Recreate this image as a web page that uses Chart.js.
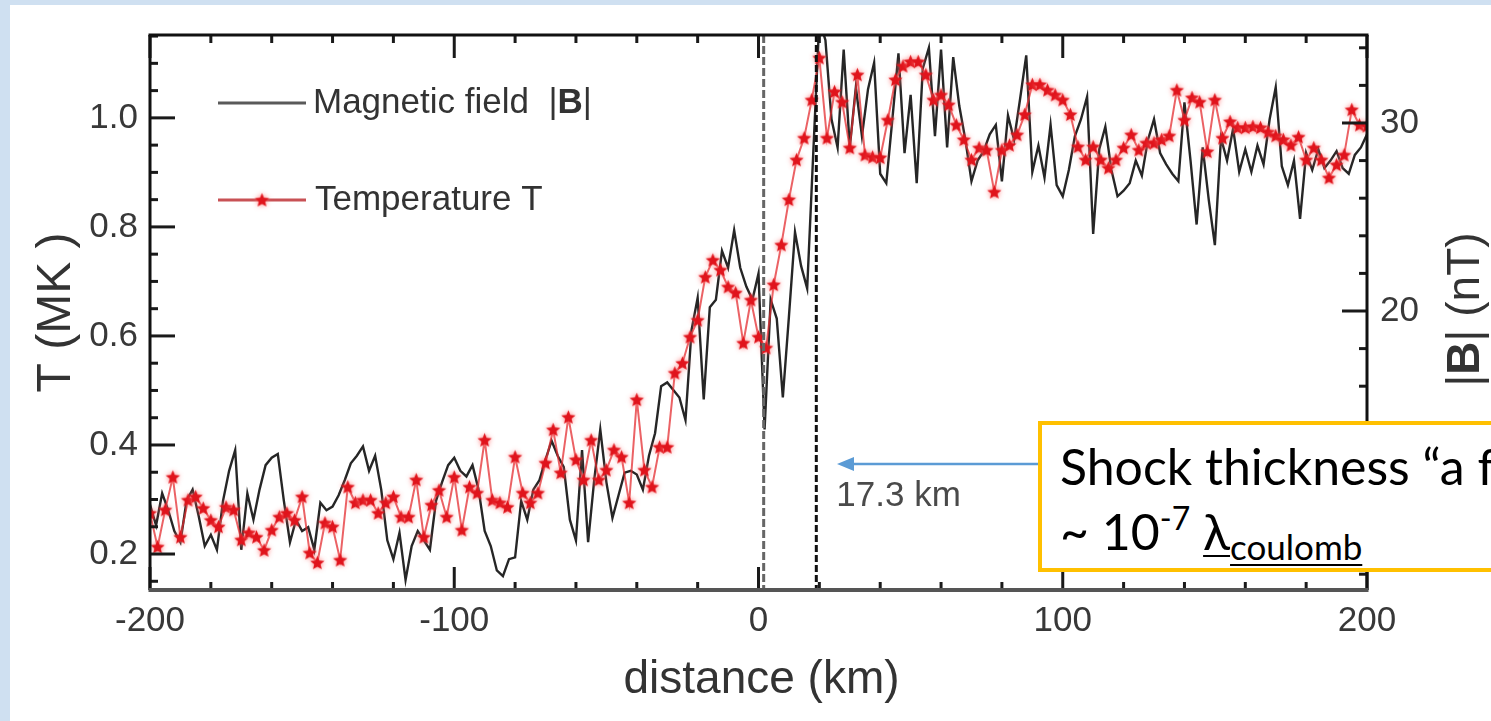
<!DOCTYPE html>
<html>
<head>
<meta charset="utf-8">
<script src="https://cdn.jsdelivr.net/npm/chart.js@4.4.1/dist/chart.umd.min.js"></script>
<style>
  html, body { margin: 0; padding: 0; width: 1491px; height: 721px; overflow: hidden; background: #cfe0f1; }
  #sheet { position: absolute; left: 10px; top: 5px; right: 0; bottom: 0; background: #fff; }
  #plot { position: absolute; left: 0; top: 0; }
  #arrow { position: absolute; left: 0; top: 0; }
  #note { position: absolute; left: 1038px; top: 421px; width: 600px; height: 143px;
          border: 4px solid #ffc000; background: #fff; font-family: Lato, "Liberation Sans", sans-serif; color: #000; }
  #note .l1, #note .l2 { position: absolute; left: 18px; white-space: nowrap; font-size: 50px; line-height: 50px; }
  #note .l1 { top: 16px; }
  #note .l2 { top: 81px; }
  #note sup { font-size: 32px; vertical-align: 20px; line-height: 0; }
  #note .sub { display: inline-block; font-size: 35px; line-height: 35px; position: relative; top: 10px;
               text-decoration: underline; text-underline-offset: 4px; text-decoration-thickness: 2px; }
  #note .lam { text-decoration: underline; text-underline-offset: 5px; text-decoration-thickness: 2px; }
</style>
</head>
<body>
<div id="sheet"></div>
<canvas id="plot" width="1491" height="721"></canvas>
<svg id="arrow" width="1491" height="721">
  <line x1="1038" y1="464" x2="850" y2="464" stroke="#5b9bd5" stroke-width="2.5"/>
  <polygon points="837,464 854,457 854,471" fill="#5b9bd5"/>
</svg>
<div id="note">
  <div class="l1">Shock thickness “a few</div>
  <div class="l2">~ 10<sup>-7</sup> <span class="lam">λ</span><span class="sub">coulomb</span></div>
</div>
<script>
// distance grid (km)
const distStart = -200;
const distStepB = 2;
const distStepT = 2.5;

// |B| in nT, one value every 2 km from -200 km
const fieldB = [
  9.7, 8.6, 10.3, 9.4, 8.3, 7.7, 9.9, 10.5, 9.1, 7.5,
  8.1, 7.3, 9.9, 11.5, 12.6, 7.3, 10.3, 8.9, 10.5, 11.8,
  12.2, 12.4, 9.9, 7.7, 8.9, 8.3, 8.5, 7.3, 9.8, 9.4,
  9.6, 10.2, 11.0, 11.9, 12.3, 12.8, 11.5, 12.3, 10.5, 7.8,
  6.8, 8.2, 5.7, 7.5, 8.3, 7.8, 7.3, 9.9, 10.9, 11.8,
  12.2, 11.5, 11.2, 11.8, 10.5, 8.3, 7.5, 6.2, 5.9, 6.8,
  6.9, 9.9, 8.9, 10.5, 11.0, 12.1, 13.1, 12.3, 11.7, 8.9,
  7.8, 12.6, 7.7, 11.0, 13.7, 10.9, 9.0, 10.2, 11.4, 11.5,
  11.3, 10.5, 12.3, 13.5, 16.0, 16.2, 15.8, 15.4, 14.2, 19.0,
  20.7, 15.3, 20.2, 20.6, 23.2, 22.3, 24.3, 22.3, 21.3, 20.6,
  22.0, 13.7, 20.6, 19.6, 15.4, 19.7, 24.2, 22.4, 21.2, 28.4,
  35.5, 34.4, 30.2, 28.7, 33.9, 28.7, 31.9, 29.3, 31.8, 33.2,
  27.3, 26.8, 30.2, 33.7, 28.4, 31.5, 26.8, 32.9, 34.0, 29.3,
  33.9, 28.7, 33.5, 30.9, 29.1, 26.9, 28.0, 28.5, 29.4, 29.9,
  26.9, 30.4, 29.1, 31.3, 33.6, 27.4, 28.8, 27.1, 29.9, 26.7,
  26.1, 27.5, 29.3, 30.2, 31.4, 24.1, 28.6, 29.8, 27.5, 26.1,
  26.4, 26.8, 28.0, 27.2, 29.1, 30.2, 28.4, 27.8, 27.3, 26.9,
  31.1, 28.0, 24.6, 28.7, 25.9, 23.5, 29.2, 28.0, 29.7, 27.4,
  28.6, 27.4, 28.8, 27.8, 30.2, 31.9, 27.7, 26.7, 28.0, 24.9,
  28.4, 27.5, 28.6, 27.6, 28.0, 28.5, 27.6, 27.3, 28.3, 28.7,
  29.4
];

// T in MK, one value every 2.5 km from -200 km
const tempT = [
  0.275, 0.213, 0.281, 0.341, 0.231, 0.299, 0.305, 0.284, 0.262, 0.250,
  0.286, 0.281, 0.226, 0.239, 0.231, 0.207, 0.244, 0.268, 0.275, 0.262,
  0.305, 0.202, 0.184, 0.257, 0.250, 0.189, 0.323, 0.294, 0.299, 0.299,
  0.275, 0.294, 0.305, 0.268, 0.268, 0.336, 0.231, 0.290, 0.317, 0.268,
  0.341, 0.244, 0.323, 0.312, 0.409, 0.299, 0.294, 0.286, 0.378, 0.312,
  0.294, 0.312, 0.367, 0.428, 0.349, 0.451, 0.373, 0.336, 0.409, 0.336,
  0.354, 0.391, 0.378, 0.294, 0.483, 0.354, 0.323, 0.396, 0.396, 0.532,
  0.550, 0.598, 0.629, 0.708, 0.739, 0.721, 0.690, 0.679, 0.587, 0.666,
  0.598, 0.578, 0.694, 0.767, 0.850, 0.923, 0.963, 1.033, 1.110, 0.963,
  1.048, 1.029, 0.945, 1.079, 0.932, 0.928, 0.927, 0.996, 1.070, 1.095,
  1.103, 1.103, 1.079, 1.033, 1.042, 1.024, 0.987, 0.960, 0.923, 0.945,
  0.941, 0.864, 0.941, 0.950, 0.969, 1.006, 1.061, 1.061, 1.051, 1.042,
  1.033, 1.006, 0.947, 0.923, 0.947, 0.923, 0.908, 0.923, 0.945, 0.969,
  0.941, 0.954, 0.954, 0.960, 0.967, 1.051, 0.996, 1.037, 1.029, 0.938,
  1.033, 0.963, 0.993, 0.982, 0.982, 0.984, 0.982, 0.974, 0.967, 0.960,
  0.950, 0.965, 0.923, 0.945, 0.923, 0.890, 0.914, 0.932, 1.015, 0.987,
  0.985
];

// axes
const xRange = [-200, 200];
const tRange = [0.134, 1.152];
const bRange = [5.16, 34.68];
const xMajor = [-200, -100, 0, 100, 200];
const tMajor = [0.2, 0.4, 0.6, 0.8, 1.0];
const bMajor = [10, 20, 30];
const xMinorStep = 20, tMinorStep = 0.05, bMinorStep = 2;

// shock edges (dashed lines), km
const shockEdges = [1.7, 19.0];
const shockLabel = '17.3 km';

const labelFont = '"Liberation Sans", Arial, sans-serif';

function starImage(r, color) {
  const s = Math.ceil(r * 2 + 8);
  const c = document.createElement('canvas');
  c.width = c.height = s;
  const g = c.getContext('2d');
  g.translate(s / 2, s / 2 + 0.5);
  g.beginPath();
  for (let i = 0; i < 10; i++) {
    const rad = i % 2 ? r * 0.45 : r;
    const a = -Math.PI / 2 + i * Math.PI / 5;
    g.lineTo(rad * Math.cos(a), rad * Math.sin(a));
  }
  g.closePath();
  g.shadowColor = 'rgba(255,110,110,0.9)';
  g.shadowBlur = 5;
  g.fillStyle = color;
  g.fill();
  return c;
}
const redStar = starImage(7.5, '#e0141c');

function line(ctx, x1, y1, x2, y2) {
  ctx.beginPath(); ctx.moveTo(x1, y1); ctx.lineTo(x2, y2); ctx.stroke();
}
function steps(lo, hi, step) {
  const out = [];
  for (let v = Math.ceil(lo / step - 1e-9) * step; v <= hi + 1e-9; v += step) out.push(+v.toFixed(4));
  return out;
}

const decorations = {
  id: 'decorations',
  afterDatasetsDraw(chart) {
    const ctx = chart.ctx, a = chart.chartArea;
    const sx = chart.scales.x, sT = chart.scales.yT, sB = chart.scales.yB;
    ctx.save();

    // dashed shock edges
    ctx.lineWidth = 3;
    ctx.strokeStyle = '#666';
    ctx.setLineDash([8, 3]);
    let px = sx.getPixelForValue(shockEdges[0]);
    line(ctx, px, a.top, px, a.bottom);
    ctx.strokeStyle = '#111';
    ctx.setLineDash([7, 3]);
    px = sx.getPixelForValue(shockEdges[1]);
    line(ctx, px, a.top, px, a.bottom);
    ctx.setLineDash([]);

    ctx.font = '35px ' + labelFont;
    ctx.fillStyle = '#4a4a4a';
    ctx.textBaseline = 'middle';
    ctx.textAlign = 'left';
    ctx.fillText(shockLabel, px + 20, sT.getPixelForValue(0.305));

    // inward ticks
    ctx.strokeStyle = '#1a1a1a';
    ctx.lineWidth = 3;
    steps(xRange[0], xRange[1], xMinorStep).forEach(v => {
      const len = xMajor.includes(v) ? 23 : 8;
      const p = sx.getPixelForValue(v);
      line(ctx, p, a.bottom, p, a.bottom - len);
      line(ctx, p, a.top, p, a.top + len);
    });
    steps(tRange[0], tRange[1], tMinorStep).forEach(v => {
      const len = tMajor.some(m => Math.abs(m - v) < 1e-6) ? 25 : 8;
      const p = sT.getPixelForValue(v);
      line(ctx, a.left, p, a.left + len, p);
    });
    steps(bRange[0], bRange[1], bMinorStep).forEach(v => {
      const len = bMajor.includes(v) ? 25 : 8;
      const p = sB.getPixelForValue(v);
      line(ctx, a.right, p, a.right - len, p);
    });

    // frame
    ctx.strokeStyle = '#111';
    ctx.lineWidth = 3;
    line(ctx, a.left, a.bottom, a.left, a.top);
    line(ctx, a.left - 1.5, a.top, a.right + 1.5, a.top);
    line(ctx, a.right, a.top, a.right, a.bottom);
    ctx.strokeStyle = '#555';
    ctx.lineWidth = 4;
    line(ctx, a.left - 1.5, a.bottom, a.right + 1.5, a.bottom);

    // legend
    const lx = a.left + 68;
    ctx.font = '35px ' + labelFont;
    ctx.fillStyle = '#333';
    ctx.textBaseline = 'middle';
    ctx.strokeStyle = '#5a5a5a';
    ctx.lineWidth = 3;
    line(ctx, lx, a.top + 68, lx + 88, a.top + 68);
    let tx = lx + 95;
    const t1 = 'Magnetic field  |';
    ctx.fillText(t1, tx, a.top + 68);
    tx += ctx.measureText(t1).width;
    ctx.font = 'bold 35px ' + labelFont;
    ctx.fillText('B', tx, a.top + 68);
    tx += ctx.measureText('B').width;
    ctx.font = '35px ' + labelFont;
    ctx.fillText('|', tx, a.top + 68);

    ctx.strokeStyle = 'rgba(190,50,55,0.85)';
    line(ctx, lx, a.top + 165, lx + 88, a.top + 165);
    ctx.drawImage(redStar, lx + 44 - redStar.width / 2, a.top + 165 - redStar.height / 2);
    ctx.fillText('Temperature T', lx + 97, a.top + 165);

    // axis titles
    ctx.font = '46px ' + labelFont;
    ctx.fillStyle = '#333';
    ctx.textAlign = 'center';
    ctx.fillText('distance (km)', (a.left + a.right) / 2 + 3, 680);

    ctx.save();
    ctx.translate(57, (a.top + a.bottom) / 2);
    ctx.rotate(-Math.PI / 2);
    ctx.font = '48px ' + labelFont;
    ctx.fillText('T (MK )', 0, 0);
    ctx.restore();

    ctx.save();
    ctx.translate(1466, (a.top + a.bottom) / 2 - 3);
    ctx.rotate(-Math.PI / 2);
    ctx.textAlign = 'left';
    const parts = [['|', '46px '], ['B', 'bold 46px '], ['| (nT)', '46px ']];
    let w = 0;
    parts.forEach(p => { ctx.font = p[1] + labelFont; w += ctx.measureText(p[0]).width; });
    let cx = -w / 2;
    parts.forEach(p => { ctx.font = p[1] + labelFont; ctx.fillText(p[0], cx, 0); cx += ctx.measureText(p[0]).width; });
    ctx.restore();

    ctx.restore();
  }
};

const tickFont = { family: labelFont, size: 35 };

new Chart(document.getElementById('plot').getContext('2d'), {
  type: 'line',
  data: {
    datasets: [
      {
        label: 'Temperature T',
        data: tempT.map((v, i) => ({ x: distStart + i * distStepT, y: v })),
        yAxisID: 'yT',
        borderColor: 'rgba(228,45,50,0.75)',
        borderWidth: 2,
        pointStyle: redStar,
        pointRadius: 6,
        tension: 0
      },
      {
        label: 'Magnetic field |B|',
        data: fieldB.map((v, i) => ({ x: distStart + i * distStepB, y: v })),
        yAxisID: 'yB',
        borderColor: '#262626',
        borderWidth: 2.4,
        pointRadius: 0,
        tension: 0
      }
    ]
  },
  options: {
    responsive: false,
    animation: false,
    layout: { padding: { top: 35, left: 0, right: 0, bottom: 0 } },
    plugins: { legend: { display: false }, tooltip: { enabled: false } },
    scales: {
      x: {
        type: 'linear',
        min: xRange[0], max: xRange[1],
        afterBuildTicks: s => { s.ticks = xMajor.map(v => ({ value: v })); },
        afterFit: s => { s.height = 131; },
        grid: { display: false, drawTicks: false },
        border: { display: false },
        ticks: { font: tickFont, color: '#383838', padding: 10, maxRotation: 0 }
      },
      yT: {
        position: 'left',
        min: tRange[0], max: tRange[1],
        afterBuildTicks: s => { s.ticks = tMajor.map(v => ({ value: v })); },
        afterFit: s => { s.width = 150; },
        grid: { display: false, drawTicks: false },
        border: { display: false },
        ticks: { font: tickFont, color: '#383838', padding: 12, callback: v => v.toFixed(1) }
      },
      yB: {
        position: 'right',
        min: bRange[0], max: bRange[1],
        afterBuildTicks: s => { s.ticks = bMajor.map(v => ({ value: v })); },
        afterFit: s => { s.width = 124; },
        grid: { display: false, drawTicks: false },
        border: { display: false },
        ticks: { font: tickFont, color: '#383838', padding: 13 }
      }
    }
  },
  plugins: [decorations]
});
</script>
</body>
</html>
